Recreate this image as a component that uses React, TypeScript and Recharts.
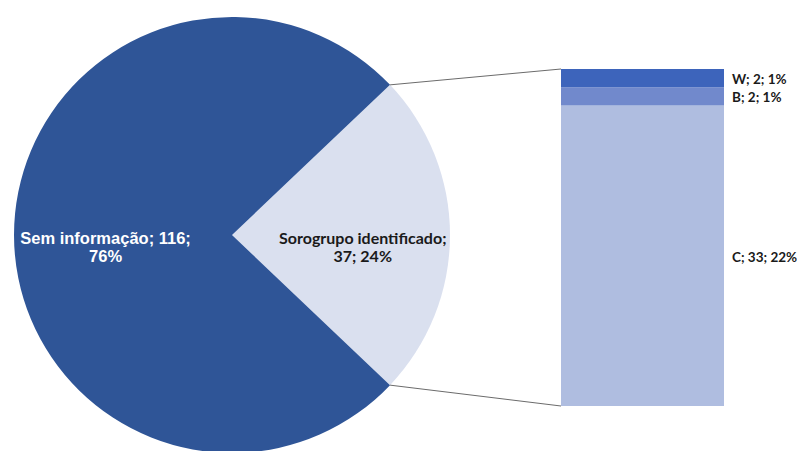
import { Bar, BarChart, Cell, LabelList, Pie, PieChart, XAxis, YAxis } from 'recharts';

const pieNames = ['Sorogrupo identificado', 'Sem informação'];
const pieValues = [37, 116];
const piePercents = [24, 76];
const pieColors = ['#dae0ef', '#2f5597'];
const pieTextColors = ['#1a1a1a', '#ffffff'];

const barNames = ['C', 'B', 'W'];
const barValues = [33, 2, 2];
const barPercents = [22, 1, 1];
const barColors = ['#afbde0', '#7189cc', '#3d64bb'];

const W = 805;
const H = 459;
const CX = 232;
const CY = 235;
const R = 218;
const BAR_LEFT = 561;
const BAR_RIGHT = 724;
const BAR_TOP = 69;
const BAR_BOTTOM = 406;

const pieData = pieNames.map((name, i) => ({
  name,
  value: pieValues[i],
  pct: piePercents[i],
}));

const barRow: Record<string, number | string> = { name: 'grupo' };
barNames.forEach((n, i) => {
  barRow[n] = barValues[i];
});
const barData = [barRow];

const total = pieValues.reduce((a, b) => a + b, 0);
const sliceAngle = (pieValues[0] / total) * 360;
const startAngle = -sliceAngle / 2;

const font = 'Lato, "Open Sans", "Liberation Sans", sans-serif';

export default function App() {
  const rad = Math.PI / 180;
  const topA = -(startAngle + sliceAngle) * rad;
  const botA = -startAngle * rad;
  const p1 = { x: CX + R * Math.cos(topA), y: CY + R * Math.sin(topA) };
  const p2 = { x: CX + R * Math.cos(botA), y: CY + R * Math.sin(botA) };

  const renderPieLabel = (props: any) => {
    const { cx, cy, midAngle, outerRadius, index } = props;
    const r = index === 0 ? outerRadius * 0.6 : outerRadius * 0.58;
    const x = cx + r * Math.cos(-midAngle * rad);
    const y = cy + r * Math.sin(-midAngle * rad);
    const d = pieData[index];
    const line1 = index === 0 ? `${d.name};` : `${d.name}; ${d.value};`;
    const line2 = index === 0 ? `${d.value}; ${d.pct}%` : `${d.pct}%`;
    return (
      <text
        x={x}
        y={y}
        fill={pieTextColors[index]}
        textAnchor="middle"
        fontSize={index === 0 ? 16 : 16.5}
        fontWeight={700}
        fontFamily={index === 0 ? font : '"Liberation Sans", Arial, sans-serif'}
      >
        <tspan x={x} dy={9}>{line1}</tspan>
        <tspan x={x} dy={18}>{line2}</tspan>
      </text>
    );
  };

  const makeBarLabel = (i: number) => (props: any) => {
    const { x, y, width, height } = props;
    const ty = y + height / 2 + 1;
    return (
      <text
        x={x + width + 8}
        y={ty}
        dominantBaseline="central"
        fill="#1a1a1a"
        fontSize={13.5}
        fontWeight={700}
        fontFamily={font}
      >
        {`${barNames[i]}; ${barValues[i]}; ${barPercents[i]}%`}
      </text>
    );
  };

  return (
    <div style={{ position: 'relative', width: W, height: H, margin: -8, background: '#fff' }}>
      <div style={{ position: 'absolute', left: 0, top: 0 }}>
        <PieChart width={W} height={H} margin={{ top: 0, right: 0, bottom: 0, left: 0 }}>
          <Pie
            data={pieData}
            dataKey="value"
            nameKey="name"
            cx={CX}
            cy={CY}
            outerRadius={R}
            startAngle={startAngle}
            endAngle={startAngle + 360}
            stroke="none"
            labelLine={false}
            label={renderPieLabel}
            isAnimationActive={false}
          >
            {pieData.map((d, i) => (
              <Cell key={d.name} fill={pieColors[i]} />
            ))}
          </Pie>
        </PieChart>
      </div>
      <div style={{ position: 'absolute', left: 0, top: 0 }}>
        <BarChart
          width={W}
          height={H}
          data={barData}
          margin={{ top: BAR_TOP, bottom: H - BAR_BOTTOM, left: BAR_LEFT, right: W - BAR_RIGHT }}
          barCategoryGap={0}
        >
          <XAxis dataKey="name" hide />
          <YAxis hide domain={[0, pieValues[0]]} />
          {barNames.map((n, i) => (
            <Bar key={n} dataKey={n} stackId="s" fill={barColors[i]} isAnimationActive={false}>
              <LabelList dataKey={n} content={makeBarLabel(i)} />
            </Bar>
          ))}
        </BarChart>
      </div>
      <svg
        width={W}
        height={H}
        style={{ position: 'absolute', left: 0, top: 0, pointerEvents: 'none' }}
      >
        <line x1={p1.x} y1={p1.y} x2={BAR_LEFT} y2={BAR_TOP} stroke="#6b6b6b" strokeWidth={1} />
        <line x1={p2.x} y1={p2.y} x2={BAR_LEFT} y2={BAR_BOTTOM} stroke="#6b6b6b" strokeWidth={1} />
      </svg>
    </div>
  );
}
